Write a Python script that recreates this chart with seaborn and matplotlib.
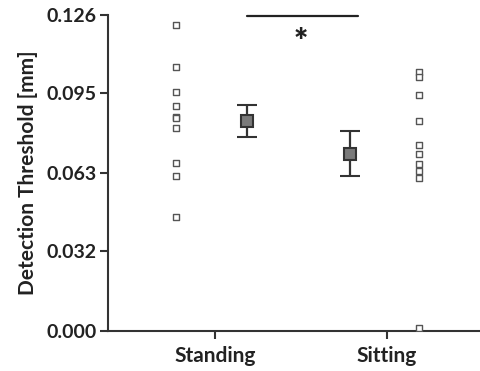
import numpy as np
import pandas as pd
import matplotlib
matplotlib.use("Agg")
import matplotlib.pyplot as plt
import seaborn as sns

# Individual detection thresholds (mm) per posture
standing_vals = [0.1219, 0.1054, 0.0954, 0.0898, 0.0855, 0.0849, 0.0811, 0.0670, 0.0619, 0.0455]
sitting_vals = [0.1034, 0.1012, 0.0941, 0.0837, 0.0742, 0.0706, 0.0667, 0.0637, 0.0610, 0.0012]

# Group means and error bar limits
conditions = ["Standing", "Sitting"]
group_means = [0.0839, 0.0707]
err_upper = [0.0902, 0.0796]
err_lower = [0.0774, 0.0619]

y_ticks = [0.000, 0.032, 0.063, 0.095, 0.126]
y_ticklabels = ["0.000", "0.032", "0.063", "0.095", "0.126"]

sns.set_theme(style="white")
plt.rcParams["font.family"] = ["Lato", "DejaVu Sans"]

fig = plt.figure(figsize=(4.81, 3.71), dpi=100)
ax = fig.add_axes([108 / 481, 40 / 371, 373 / 481, 316 / 371])

cat_pos = np.arange(len(conditions))
raw_offset = [-0.227, 0.186]
mean_offset = [0.186, -0.215]

rows = []
for i, vals in enumerate([standing_vals, sitting_vals]):
    for v in vals:
        rows.append({"x": cat_pos[i] + raw_offset[i], "value": v, "condition": conditions[i]})
df = pd.DataFrame(rows)

sns.scatterplot(data=df, x="x", y="value", marker="s", s=14, facecolor="white",
                edgecolor="#555555", linewidth=1.0, ax=ax, zorder=3, legend=False)

mx = cat_pos + np.array(mean_offset)
means = np.array(group_means)
yerr = np.vstack([means - np.array(err_lower), np.array(err_upper) - means])
ax.errorbar(mx, means, yerr=yerr, fmt="s", markersize=8, markerfacecolor="#7a7a7a",
            markeredgecolor="#333333", markeredgewidth=1.5, ecolor="#333333",
            elinewidth=1.6, capsize=7, capthick=1.6, zorder=4)

# significance bar
ax.plot([cat_pos[0] + 0.186, cat_pos[1] - 0.17], [0.1255, 0.1255], color="#222222", lw=1.6,
        clip_on=False)
ax.text((cat_pos[0] + cat_pos[1]) / 2, 0.1150, "*", ha="center", va="center",
        fontsize=24, fontweight="heavy", color="#222222")

ax.set_xlim(-0.622, 1.547)
ax.set_ylim(0, 0.126)
ax.set_xticks(cat_pos)
ax.set_xticklabels(conditions, fontsize=15, fontweight="bold", color="#222222")
ax.set_yticks(y_ticks)
ax.set_yticklabels(y_ticklabels, fontsize=14, fontweight="bold", color="#222222")
ax.set_xlabel("")
ax.set_ylabel("Detection Threshold [mm]", fontsize=15, fontweight="bold", color="#222222",
              labelpad=6)

for side in ["top", "right"]:
    ax.spines[side].set_visible(False)
for side in ["left", "bottom"]:
    ax.spines[side].set_color("#333333")
    ax.spines[side].set_linewidth(1.5)
ax.tick_params(axis="both", direction="out", length=6, width=1.5, color="#333333",
               left=True, bottom=True)
ax.tick_params(axis="y", pad=2)
ax.tick_params(axis="x", pad=5)

fig.savefig("out.png", dpi=100)
